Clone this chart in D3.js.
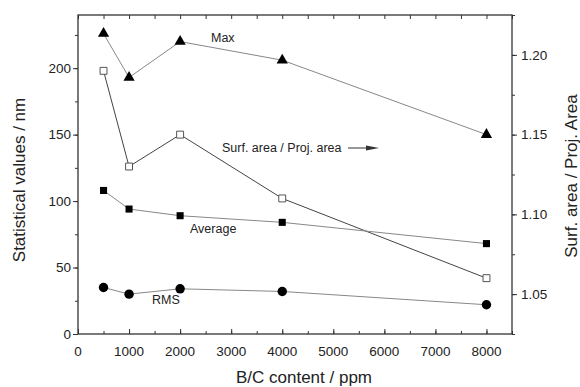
<!DOCTYPE html>
<html>
<head>
<meta charset="utf-8">
<script src="https://cdnjs.cloudflare.com/ajax/libs/d3/7.8.5/d3.min.js"></script>
<style>
  body { margin: 0; background: #fff; }
  text { font-family: "Liberation Sans", Arial, sans-serif; fill: #222; }
</style>
</head>
<body>
<svg width="580" height="387"></svg>
<script>
var svg = d3.select("svg");

// data
var content = [500, 1000, 2000, 4000, 8000];
var maxVals = [226, 193, 220, 206, 150];
var avgVals = [108, 94, 89, 84, 68];
var rmsVals = [35, 30, 34, 32, 22];
var surfRatio = [1.19, 1.13, 1.15, 1.11, 1.06];

var xTicks = [0, 1000, 2000, 3000, 4000, 5000, 6000, 7000, 8000];
var yTicks = [0, 50, 100, 150, 200];
var y2Ticks = [1.05, 1.10, 1.15, 1.20];

// plot box (note: "top" clashes with window.top, so use other names)
var plotL = 78, plotR = 512, plotT = 15, plotB = 334;

var x = d3.scaleLinear().domain([0, 8500]).range([plotL, plotR]);
var y = d3.scaleLinear().domain([0, 240]).range([plotB, plotT]);
var y2 = d3.scaleLinear().domain([1.025, 1.225]).range([plotB, plotT]);

function minors(scale, step) {
    var d = scale.domain(), out = [];
    for (var v = Math.ceil(d[0] / step - 1e-9) * step; v <= d[1] + 1e-9; v += step) out.push(+v.toFixed(4));
    return out;
}

// frame
svg.append("rect")
    .attr("x", plotL).attr("y", plotT)
    .attr("width", plotR - plotL).attr("height", plotB - plotT)
    .attr("fill", "none").attr("stroke", "#333").attr("stroke-width", 1.3);

// bottom axis (ticks inside)
var gx = svg.append("g").attr("transform", "translate(0," + plotB + ")");
gx.call(d3.axisTop(x).tickValues(minors(x, 500)).tickSize(3).tickFormat(""));
gx.append("g").call(d3.axisTop(x).tickValues(xTicks).tickSize(5).tickFormat(""));
gx.selectAll("text").remove();
gx.selectAll(".domain").remove();
gx.selectAll("line").attr("stroke", "#333");
gx.selectAll(".lbl").data(xTicks).enter().append("text")
    .attr("class", "lbl")
    .attr("x", function(d) { return x(d); })
    .attr("y", 22)
    .attr("text-anchor", "middle")
    .attr("font-size", 13.5)
    .text(function(d) { return d; });

// top axis (ticks inside)
var gt = svg.append("g").attr("transform", "translate(0," + plotT + ")");
gt.call(d3.axisBottom(x).tickValues(minors(x, 500)).tickSize(4).tickFormat(""));
gt.selectAll(".domain").remove();
gt.selectAll("line").attr("stroke", "#333");

// left axis (ticks outside)
var gy = svg.append("g").attr("transform", "translate(" + plotL + ",0)");
gy.call(d3.axisLeft(y).tickValues(minors(y, 25)).tickSize(3).tickFormat(""));
gy.append("g").call(d3.axisLeft(y).tickValues(yTicks).tickSize(5).tickFormat(function(d) { return d; }));
gy.selectAll(".domain").remove();
gy.selectAll("line").attr("stroke", "#333");
gy.selectAll("text").attr("font-size", 13.5).attr("fill", "#222")
    .attr("font-family", "Liberation Sans, Arial, sans-serif").attr("x", -7);

// right axis (ticks outside)
var gy2 = svg.append("g").attr("transform", "translate(" + plotR + ",0)");
gy2.call(d3.axisRight(y2).tickValues(minors(y2, 0.025)).tickSize(3).tickFormat(""));
gy2.append("g").call(d3.axisRight(y2).tickValues(y2Ticks).tickSize(5).tickFormat(d3.format(".2f")));
gy2.selectAll(".domain").remove();
gy2.selectAll("line").attr("stroke", "#333");
gy2.selectAll("text").attr("font-size", 13.5).attr("fill", "#222")
    .attr("font-family", "Liberation Sans, Arial, sans-serif").attr("x", 9);

// axis titles
svg.append("text")
    .attr("x", 304).attr("y", 383)
    .attr("text-anchor", "middle").attr("font-size", 17)
    .text("B/C content / ppm");
svg.append("text")
    .attr("transform", "translate(25,180) rotate(-90)")
    .attr("text-anchor", "middle").attr("font-size", 17)
    .text("Statistical values / nm");
svg.append("text")
    .attr("transform", "translate(577,176) rotate(-90)")
    .attr("text-anchor", "middle").attr("font-size", 17)
    .text("Surf. area / Proj. Area");

// series
function drawSeries(vals, yScale, lineColor, shape, fill, size) {
    var pts = content.map(function(c, i) { return [x(c), yScale(vals[i])]; });
    svg.append("path")
        .attr("d", d3.line()(pts))
        .attr("fill", "none")
        .attr("stroke", lineColor)
        .attr("stroke-width", 1);
    svg.append("g").selectAll("path").data(pts).enter().append("path")
        .attr("transform", function(p) { return "translate(" + p[0] + "," + p[1] + ")"; })
        .attr("d", d3.symbol().type(shape).size(size))
        .attr("fill", fill)
        .attr("stroke", fill === "#fff" ? "#555" : "none")
        .attr("stroke-width", 1);
}

drawSeries(maxVals, y, "#888", d3.symbolTriangle, "#000", 55);
drawSeries(surfRatio, y2, "#444", d3.symbolSquare, "#fff", 48);
drawSeries(avgVals, y, "#888", d3.symbolSquare, "#000", 50);
drawSeries(rmsVals, y, "#888", d3.symbolCircle, "#000", 70);

// in-plot labels
svg.append("text").attr("x", 211).attr("y", 42).attr("font-size", 12.5).text("Max");
svg.append("text").attr("x", 222).attr("y", 152).attr("font-size", 12.5).text("Surf. area / Proj. area");
svg.append("text").attr("x", 190).attr("y", 233).attr("font-size", 12.5).text("Average");
svg.append("text").attr("x", 152).attr("y", 304).attr("font-size", 12.5).text("RMS");

// arrow
svg.append("line")
    .attr("x1", 348).attr("y1", 148).attr("x2", 372).attr("y2", 148)
    .attr("stroke", "#333").attr("stroke-width", 1);
svg.append("path")
    .attr("d", "M366,145.5 L379,148 L366,150.5 Z")
    .attr("fill", "#333");
</script>
</body>
</html>
